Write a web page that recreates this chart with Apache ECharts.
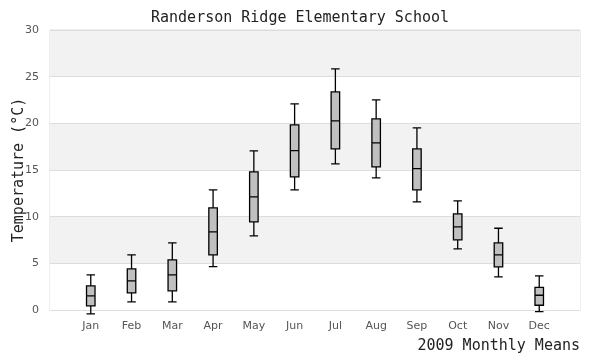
<!DOCTYPE html>
<html>
<head>
<meta charset="utf-8">
<script src="https://cdn.jsdelivr.net/npm/echarts@6/dist/echarts.min.js"></script>
<style>html,body{margin:0;padding:0;background:#fff}#c{width:600px;height:360px}</style>
</head>
<body>
<div id="c"></div>
<script>
const months = ['Jan','Feb','Mar','Apr','May','Jun','Jul','Aug','Sep','Oct','Nov','Dec'];
const monthPos = [1,2,3,4,5,6,7,8,9,10,11,12];
const lowWhisker = [-0.42, 0.87, 0.87, 4.65, 7.94, 12.87, 15.65, 14.15, 11.58, 6.55, 3.55, -0.17];
const q1 =         [0.44, 1.83, 2.05, 5.90, 9.44, 14.26, 17.26, 15.33, 12.87, 7.51, 4.62, 0.51];
const median =     [1.51, 3.12, 3.76, 8.37, 12.12, 17.08, 20.26, 17.90, 15.15, 8.90, 5.90, 1.58];
const q3 =         [2.58, 4.40, 5.37, 10.94, 14.80, 19.83, 23.37, 20.47, 17.26, 10.30, 7.19, 2.43];
const highWhisker = [3.76, 5.90, 7.19, 12.87, 17.05, 22.08, 25.83, 22.51, 19.51, 11.69, 8.76, 3.65];
const yTicks = [0, 5, 10, 15, 20, 25, 30];

const boxData = months.map((m, i) => [monthPos[i], lowWhisker[i], q1[i], median[i], q3[i], highWhisker[i]]);

const chart = echarts.init(document.getElementById('c'), null, {renderer: 'canvas'});
const mono = 'DejaVu Sans Mono';
chart.setOption({
  animation: false,
  backgroundColor: '#fff',
  title: {
    text: 'Randerson Ridge Elementary School',
    left: 'center',
    top: 6,
    textStyle: {fontFamily: mono, fontSize: 15, fontWeight: 'normal', color: '#222'}
  },
  grid: {left: 50, right: 20, top: 30, bottom: 50, outerBoundsMode: 'none', containLabel: false, show: true, borderColor: '#ddd', borderWidth: 1, backgroundColor: 'transparent'},
  xAxis: {
    type: 'value',
    min: 0, max: 13, interval: 1,
    name: '2009 Monthly Means',
    nameLocation: 'end',
    nameGap: 0,
    nameMoveOverlap: false,
    nameTextStyle: {fontFamily: mono, fontSize: 15, color: '#222', align: 'right', verticalAlign: 'top', padding: [29, 0, 0, 0]},
    axisLine: {show: true, lineStyle: {color: '#ddd'}},
    axisTick: {show: false},
    splitLine: {show: false},
    axisLabel: {
      margin: 11,
      fontFamily: 'DejaVu Sans', fontSize: 11, color: '#555',
      formatter: v => (v >= 1 && v <= 12) ? months[v - 1] : ''
    }
  },
  yAxis: {
    type: 'value',
    min: yTicks[0], max: yTicks[yTicks.length - 1], interval: 5,
    name: 'Temperature (°C)',
    nameLocation: 'middle',
    nameGap: 23,
    nameMoveOverlap: false,
    nameTextStyle: {fontFamily: mono, fontSize: 15, color: '#222'},
    axisLine: {show: false},
    axisTick: {show: false},
    axisLabel: {margin: 11, fontFamily: 'DejaVu Sans', fontSize: 11, color: '#555'},
    splitLine: {show: true, lineStyle: {color: '#ddd', width: 1}},
    splitArea: {show: true, areaStyle: {color: ['#ffffff', '#f2f2f2']}}
  },
  series: [{
    type: 'boxplot',
    data: boxData,
    boxWidth: [8.5, 8.5],
    itemStyle: {color: '#c0c0c0', borderColor: '#000', borderWidth: 1.3}
  }]
});
</script>
</body>
</html>
